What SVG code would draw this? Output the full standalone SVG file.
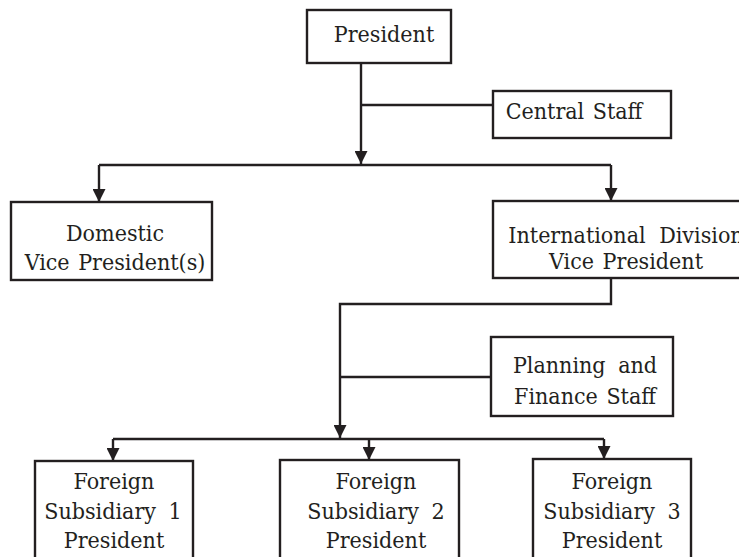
<svg xmlns="http://www.w3.org/2000/svg" width="739" height="557" viewBox="0 0 739 557">
  <style>
    .box { fill: #ffffff; stroke: #231f20; stroke-width: 2.4; }
    .lbl { font-family: "DejaVu Serif Condensed", "DejaVu Serif", "Liberation Serif", serif; font-stretch: condensed; font-size: 23px; fill: #231f20; text-anchor: middle; }
    .wire { fill: none; stroke: #231f20; stroke-width: 2.4; }
  </style>
  <defs>
    <marker id="arrow" markerUnits="userSpaceOnUse" markerWidth="14" markerHeight="13" refX="13" refY="6.5" orient="auto">
      <path d="M0,0 L13,6.5 L0,13 Z" fill="#231f20"/>
    </marker>
  </defs>
  <rect width="739" height="557" fill="#ffffff"/>

  <!-- connectors -->
  <g id="connectors">
    <path class="wire" d="M361,63 V164" marker-end="url(#arrow)"/>
    <path class="wire" d="M361,105 H493"/>
    <path class="wire" d="M99,165 H611"/>
    <path class="wire" d="M99,165 V202" marker-end="url(#arrow)"/>
    <path class="wire" d="M611,165 V201" marker-end="url(#arrow)"/>
    <path class="wire" d="M611,278 V304 H340 V438" marker-end="url(#arrow)"/>
    <path class="wire" d="M340,377 H491"/>
    <path class="wire" d="M113,439 H604"/>
    <path class="wire" d="M113,439 V461" marker-end="url(#arrow)"/>
    <path class="wire" d="M369,439 V460" marker-end="url(#arrow)"/>
    <path class="wire" d="M604,439 V459" marker-end="url(#arrow)"/>
  </g>

  <g id="president">
    <rect class="box" x="307" y="10" width="144" height="53"/>
    <text class="lbl" x="384" y="42">President</text>
  </g>

  <g id="central-staff">
    <rect class="box" x="493" y="91" width="178" height="47"/>
    <text class="lbl" x="574" y="119" word-spacing="2">Central Staff</text>
  </g>

  <g id="domestic-vp">
    <rect class="box" x="11" y="202" width="201" height="78"/>
    <text class="lbl" x="115" y="241">Domestic</text>
    <text class="lbl" x="115" y="270" word-spacing="2">Vice President(s)</text>
  </g>

  <g id="international-vp">
    <rect class="box" x="493" y="201" width="266" height="77"/>
    <text class="lbl" x="626" y="243" word-spacing="7">International Division</text>
    <text class="lbl" x="626" y="269" word-spacing="2">Vice President</text>
  </g>

  <g id="planning-finance-staff">
    <rect class="box" x="491" y="337" width="182" height="79"/>
    <text class="lbl" x="585" y="373" word-spacing="6">Planning and</text>
    <text class="lbl" x="585" y="404" word-spacing="2">Finance Staff</text>
  </g>

  <g id="foreign-sub-1">
    <rect class="box" x="35" y="461" width="158" height="110"/>
    <text class="lbl" x="114" y="489">Foreign</text>
    <text class="lbl" x="113" y="519" word-spacing="6">Subsidiary 1</text>
    <text class="lbl" x="114" y="548">President</text>
  </g>

  <g id="foreign-sub-2">
    <rect class="box" x="280" y="460" width="179" height="110"/>
    <text class="lbl" x="376" y="489">Foreign</text>
    <text class="lbl" x="376" y="519" word-spacing="6">Subsidiary 2</text>
    <text class="lbl" x="376" y="548">President</text>
  </g>

  <g id="foreign-sub-3">
    <rect class="box" x="533" y="459" width="158" height="110"/>
    <text class="lbl" x="612" y="489">Foreign</text>
    <text class="lbl" x="612" y="519" word-spacing="6">Subsidiary 3</text>
    <text class="lbl" x="612" y="548">President</text>
  </g>
</svg>
